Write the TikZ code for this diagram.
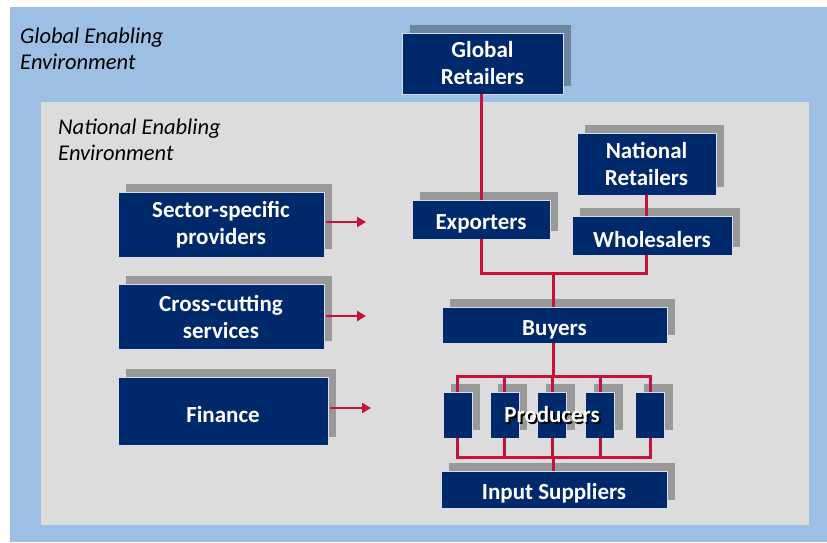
\documentclass[tikz,border=0pt]{standalone}
\usepackage{fontspec}
\setmainfont{Carlito}
\usetikzlibrary{shadows,arrows.meta}
\definecolor{envblue}{RGB}{157,191,228}
\definecolor{envgray}{RGB}{220,220,220}
\definecolor{navy}{RGB}{0,41,107}
\definecolor{chainred}{RGB}{200,16,58}
\definecolor{boxedge}{RGB}{215,222,235}
\begin{document}
\begin{tikzpicture}[x=1pt,y=-1pt,
  navybox/.style={fill=navy, draw=boxedge, line width=0.8pt, text=white,
    font=\fontsize{23}{27}\selectfont\bfseries, align=center, inner sep=0pt,
    execute at begin node={\rule{0pt}{24pt}},
    drop shadow={shadow xshift=8pt, shadow yshift=8pt, fill=black, opacity=0.3}},
  envlabel/.style={font=\fontsize{22.5}{26}\selectfont\itshape, align=left, inner sep=0pt, anchor=north west},
  link/.style={draw=chainred, line width=3pt},
  feed/.style={draw=chainred, line width=2.5pt, -{Triangle[length=9pt,width=10pt]}},
  prodtext/.style={font=\fontsize{23}{27}\selectfont\bfseries, inner sep=0pt}
]
\useasboundingbox (0,0) rectangle (827,542);
\fill[white] (0,0) rectangle (827,542);
\fill[envblue] (10,7) rectangle (827,542);
\fill[envgray] (41,102) rectangle (809,525);

\node[envlabel] (glob) at (20,28) {Global Enabling\\Environment};
\node[envlabel] (nat) at (58,119) {National Enabling\\Environment};

% chain boxes
\node[navybox, minimum width=161pt, minimum height=61pt] (GR) at (482.5,63.5) {Global\\Retailers};
\node[navybox, minimum width=139pt, minimum height=62pt] (NR) at (646.5,164) {National\\Retailers};
\node[navybox, minimum width=138pt, minimum height=39pt] (EX) at (481,219.5) {Exporters};
\node[navybox, minimum width=160pt, minimum height=39pt] (WH) at (652,235.5) {Wholesalers};
\node[navybox, minimum width=225pt, minimum height=36pt] (BU) at (554.5,325) {Buyers};
\node[navybox, minimum width=29pt, minimum height=46pt] (P1) at (457.5,415) {};
\node[navybox, minimum width=29pt, minimum height=46pt] (P2) at (504.5,415) {};
\node[navybox, minimum width=29pt, minimum height=46pt] (P3) at (552,415) {};
\node[navybox, minimum width=29pt, minimum height=46pt] (P4) at (600,415) {};
\node[navybox, minimum width=29pt, minimum height=46pt] (P5) at (650,415) {};
\node[navybox, minimum width=226pt, minimum height=37pt] (IS) at (554,489.5) {Input Suppliers};

% support boxes
\node[navybox, minimum width=206pt, minimum height=65pt] (SS) at (221,224.5) {Sector-specific\\providers};
\node[navybox, minimum width=206pt, minimum height=65pt] (CC) at (221,316.5) {Cross-cutting\\services};
\node[navybox, minimum width=210pt, minimum height=68pt] (FI) at (223,411) {Finance};

% connectors
\coordinate (j1) at (553,273);
\coordinate (bt) at (553,376);
\coordinate (bb) at (553,457);
\draw[link] (EX.north) -- (EX.north |- GR.south);
\draw[link] (NR.south) -- (NR.south |- WH.north);
\draw[link] (EX.south) |- (j1) -| (NR.south |- WH.south);
\draw[link] (j1) -- (j1 |- BU.north);
\draw[link] (bt |- BU.south) -- (bt);
\draw[link] (P1.north) |- (bt) -| (P5.north);
\draw[link] (P2.north) -- (P2.north |- bt);
\draw[link] (P3.north) -- (P3.north |- bt);
\draw[link] (P4.north) -- (P4.north |- bt);
\draw[link] (P1.south) |- (bb) -| (P5.south);
\draw[link] (P2.south) -- (P2.south |- bb);
\draw[link] (P3.south) -- (P3.south |- bb);
\draw[link] (P4.south) -- (P4.south |- bb);
\draw[link] (bb) -- (bb |- IS.north);

\coordinate (t1) at (366,222);
\coordinate (t2) at (366,316);
\coordinate (t3) at (371,408);
\draw[feed] ([xshift=2pt]SS.east |- t1) -- (t1);
\draw[feed] ([xshift=2pt]CC.east |- t2) -- (t2);
\draw[feed] ([xshift=2pt]FI.east |- t3) -- (t3);

% producers label with shadow
\node[prodtext, text=black] (prodsh) at (554,417) {Producers};
\node[prodtext, text=white] (prod) at (552,415) {Producers};
\end{tikzpicture}
\end{document}
